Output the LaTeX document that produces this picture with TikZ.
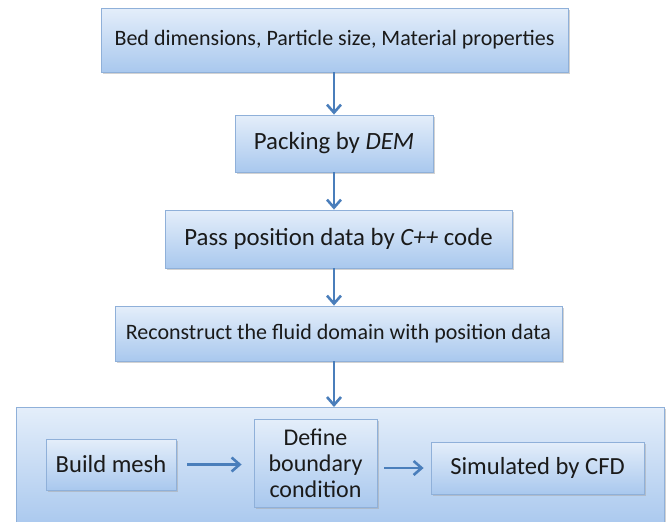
\documentclass[tikz,border=0pt]{standalone}
\usepackage{fontspec}
\setmainfont{Carlito}
\usetikzlibrary{shadows,arrows.meta}
\definecolor{boxtop}{HTML}{E4EEFA}
\definecolor{boxbot}{HTML}{A9C8EE}
\definecolor{boxline}{HTML}{8FB0D9}
\definecolor{arrowc}{HTML}{4A7EBB}
\definecolor{txt}{HTML}{1A1A1A}
\tikzset{
  box/.style={draw=boxline, line width=0.8pt, top color=boxtop, bottom color=boxbot,
    drop shadow={shadow xshift=1.5pt, shadow yshift=-2pt, fill=black!35, opacity=0.5},
    text=txt, align=center, inner sep=0pt},
  conn/.style={draw=arrowc, line width=2.8pt, -{Straight Barb[length=8pt,width=14pt,line width=2.6pt]}},
}
\begin{document}
\begin{tikzpicture}[x=1pt,y=-1pt]
\useasboundingbox (0,0) rectangle (667,522);
\fill[white] (0,0) rectangle (667,522);
% big box
\node[box, minimum width=648pt, minimum height=120pt, anchor=north west] (big) at (16,407) {};
\node[box, minimum width=467pt, minimum height=64pt, font=\fontsize{22}{26}\selectfont] (b1) at (334.5,40) {Bed dimensions, Particle size, Material properties};
\node[box, minimum width=198pt, minimum height=57pt, font=\fontsize{24.8}{29}\selectfont] (b2) at (334,143.5) {Packing by \textit{DEM}};
\node[box, minimum width=347pt, minimum height=58pt, font=\fontsize{24.8}{29}\selectfont] (b3) at (338.5,239) {Pass position data by \textit{C++} code};
\node[box, minimum width=447pt, minimum height=55pt, font=\fontsize{22}{26}\selectfont] (b4) at (338.5,333.5) {Reconstruct the fluid domain with position data};
\node[box, minimum width=130pt, minimum height=51pt, font=\fontsize{24.6}{29}\selectfont] (m1) at (111,464.5) {Build mesh};
\node[box, minimum width=123pt, minimum height=88pt, font=\fontsize{24}{26}\selectfont] (m2) at (315.5,463) {Define\\boundary\\condition};
\node[box, minimum width=213pt, minimum height=52pt, font=\fontsize{24.6}{29}\selectfont] (m3) at (537.5,468) {Simulated by CFD};
\draw[conn] (b2.north |- b1.south) -- (b2.north);
\draw[conn] (b2.south) -- (b2.south |- b3.north);
\draw[conn] (b2.south |- b3.south) -- (b2.south |- b4.north);
\draw[conn] (b2.south |- b4.south) -- (b2.south |- big.north);
\draw[conn] ([xshift=11pt]m1.east) -- ([xshift=-12pt]m2.west |- m1.east);
\draw[conn] ([xshift=7pt]m2.east |- m3.west) -- ([xshift=-7pt]m3.west);
\end{tikzpicture}
\end{document}
